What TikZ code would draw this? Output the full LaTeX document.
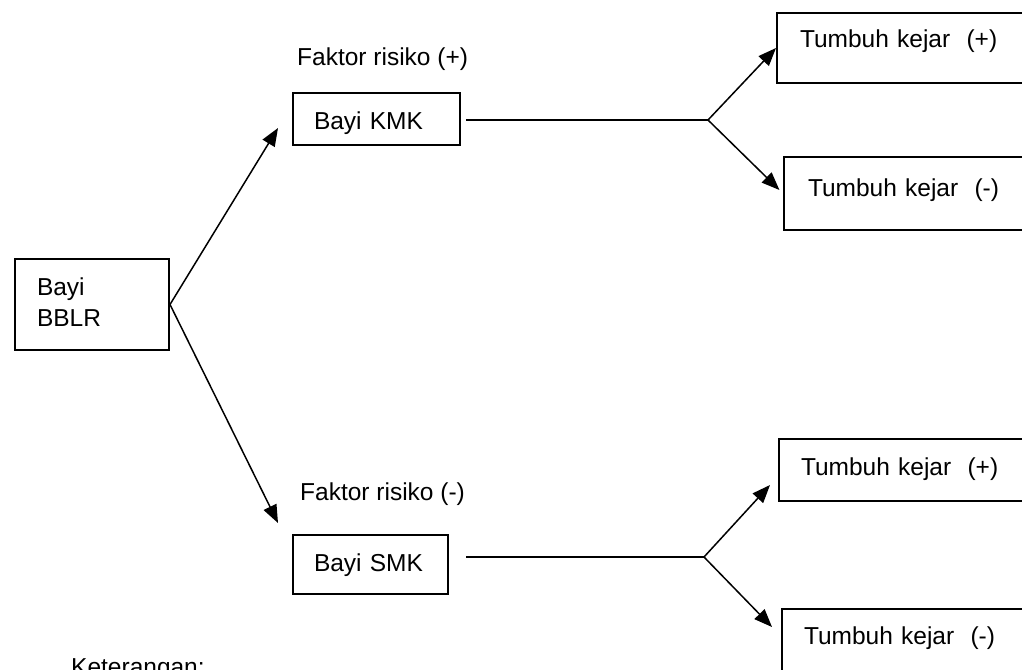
\documentclass[tikz,border=0pt]{standalone}
\usepackage{fontspec}
\setmainfont{Liberation Sans}
\usetikzlibrary{arrows.meta}

\tikzset{
  kotak/.style={draw, line width=2pt, anchor=north west, inner ysep=0pt,
    align=left, font=\fontsize{24.5}{31}\selectfont},
  teks/.style={anchor=base west, inner sep=0pt, font=\fontsize{24.5}{31}\selectfont},
  panah/.style={line width=1.5pt, -{Triangle[length=18pt,width=14pt]}},
  garis/.style={line width=1.5pt}
}

\begin{document}
\begin{tikzpicture}[x=1pt,y=-1pt]
		\useasboundingbox (0,0) rectangle (1022,669);
		% the starting box
		\node[kotak, inner xsep=22pt, text width=110pt, text height=36pt, text depth=55pt]
			(bblr) at (14,258) {Bayi\\BBLR};
		% the two groups
		\node[teks] (faktorA) at (297,66) {Faktor risiko (+)};
		\node[kotak, inner xsep=21pt, text width=125pt, text height=36pt, text depth=16pt]
			(kmk) at (292,92) {Bayi KMK};
		\node[teks] (faktorB) at (300,500) {Faktor risiko (-)};
		\node[kotak, inner xsep=21pt, text width=113pt, text height=36pt, text depth=23pt]
			(smk) at (292,534) {Bayi SMK};
		% the outcomes (cut off at the right edge)
		\node[kotak, inner xsep=23pt, text width=224pt, text height=35pt, text depth=35pt]
			(tkA) at (776,12) {Tumbuh kejar\ \ (+)};
		\node[kotak, inner xsep=24pt, text width=222pt, text height=39pt, text depth=34pt]
			(tkB) at (783,156) {Tumbuh kejar\ \ (-)};
		\node[kotak, inner xsep=22pt, text width=226pt, text height=36pt, text depth=26pt]
			(tkC) at (778,438) {Tumbuh kejar\ \ (+)};
		\node[kotak, inner xsep=22pt, text width=226pt, text height=35pt, text depth=65pt]
			(tkD) at (781,608) {Tumbuh kejar\ \ (-)};
		\node[teks] (ket) at (71,675) {Keterangan:};
		% branch points and arrow ends
		\coordinate (ujungA) at (278,128);
		\coordinate (ujungB) at (278,523);
		\coordinate (cabangA) at (708,120);
		\coordinate (cabangB) at (704,557);
		\coordinate (ujungC) at (770,485);
		\coordinate (ujungD) at (772,627);
		% connectors
		\draw[panah] (bblr.east) -- (ujungA);
		\draw[panah] (bblr.east) -- (ujungB);
		\draw[garis, shorten <=5pt] (cabangA -| kmk.east) -- (cabangA);
		\draw[panah] (cabangA) -- (tkA.west);
		\draw[panah, shorten >=5pt] (cabangA) -- (tkB.west);
		\draw[garis, shorten <=17pt] (cabangB -| smk.east) -- (cabangB);
		\draw[panah] (cabangB) -- (ujungC);
		\draw[panah] (cabangB) -- (ujungD);
\end{tikzpicture}
\end{document}
